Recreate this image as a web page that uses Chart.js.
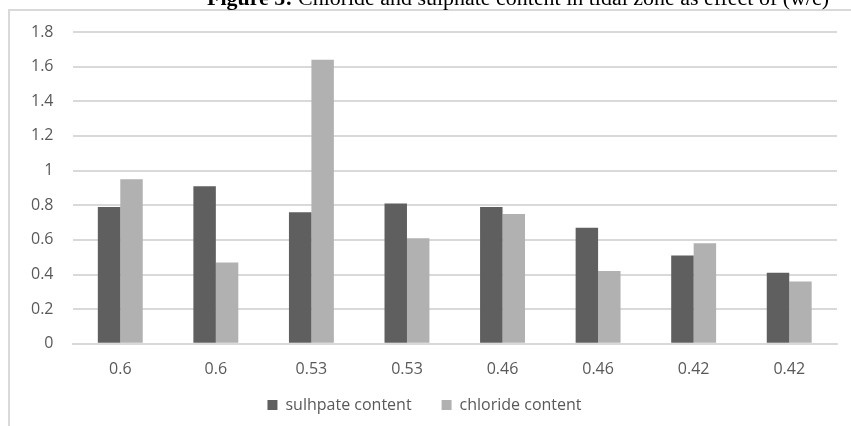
<!DOCTYPE html>
<html>
<head>
<meta charset="utf-8">
<script src="https://cdn.jsdelivr.net/npm/chart.js@4.4.1/dist/chart.umd.min.js"></script>
<style>
  html, body { margin: 0; padding: 0; background: #ffffff; }
  #wrap { width: 851px; height: 426px; position: relative; }
</style>
</head>
<body>
<div id="wrap"><canvas id="c" width="851" height="426"></canvas></div>
<script>
// w/c ratio of each specimen
const categories = ['0.6', '0.6', '0.53', '0.53', '0.46', '0.46', '0.42', '0.42'];
const sulphateContent = [0.79, 0.91, 0.76, 0.81, 0.79, 0.67, 0.51, 0.41];
const chlorideContent = [0.95, 0.47, 1.64, 0.61, 0.75, 0.42, 0.58, 0.36];
const seriesNames = ['sulhpate content', 'chloride content'];
const yTicks = [0, 0.2, 0.4, 0.6, 0.8, 1, 1.2, 1.4, 1.6, 1.8];

const TICK_FONT = { family: "'Open Sans', sans-serif", size: 16 };
const LEGEND_ROW_Y = 405;   // vertical centre of the legend row

// Caption above the chart plus the light frame around it
const framePlugin = {
  id: 'frame',
  beforeDraw(chart) {
    const ctx = chart.ctx;
    ctx.save();
    ctx.fillStyle = '#ffffff';
    ctx.fillRect(0, 0, chart.width, chart.height);
    ctx.strokeStyle = '#d9d9d9';
    ctx.lineWidth = 2;
    ctx.beginPath();
    ctx.moveTo(9, chart.height);
    ctx.lineTo(9, 10);
    ctx.lineTo(chart.width, 10);
    ctx.stroke();

    // caption: bold label + regular text, fitted to its span
    const bold = 'Figure 5:';
    const rest = ' Chloride and sulphate content in tidal zone as effect of (w/c)';
    ctx.fillStyle = '#000000';
    ctx.textBaseline = 'alphabetic';
    ctx.font = "bold 20px 'Liberation Serif', serif";
    const wb = ctx.measureText(bold).width;
    ctx.font = "20px 'Liberation Serif', serif";
    const wr = ctx.measureText(rest).width;
    const x0 = 207, x1 = 829;
    const sx = (x1 - x0) / (wb + wr);
    ctx.translate(x0, 5);
    ctx.scale(sx, 1);
    ctx.font = "bold 20px 'Liberation Serif', serif";
    ctx.fillText(bold, 0, 0);
    ctx.font = "20px 'Liberation Serif', serif";
    ctx.fillText(rest, wb, 0);
    ctx.restore();
  },
  // the wide item spacing would also push the legend row down; set its row position directly
  afterLayout(chart) {
    const lg = chart.legend;
    if (!lg) return;
    const pad = lg.options.labels.padding;
    const itemH = Math.max(lg.options.labels.boxHeight, TICK_FONT.size);
    const shift = (LEGEND_ROW_Y - itemH / 2 - pad) - lg.top;
    lg.top += shift;
    lg.bottom += shift;
    if (lg.legendHitBoxes) lg.legendHitBoxes.forEach(h => { h.top += shift; });
  }
};

new Chart(document.getElementById('c'), {
  type: 'bar',
  data: {
    labels: categories,
    datasets: [
      {
        label: seriesNames[0],
        data: sulphateContent,
        backgroundColor: '#5f5f5f',
        borderWidth: 0
      },
      {
        label: seriesNames[1],
        data: chlorideContent,
        backgroundColor: '#b1b1b1',
        borderWidth: 0
      }
    ]
  },
  options: {
    responsive: false,
    animation: false,
    devicePixelRatio: 1,
    layout: { padding: { top: 32, right: 14, bottom: -25, left: 12 } },
    datasets: { bar: { categoryPercentage: 0.47, barPercentage: 1.0 } },
    scales: {
      x: {
        grid: { display: false, drawTicks: false },
        border: { display: true, color: '#d9d9d9', width: 2 },
        ticks: { color: '#595959', font: TICK_FONT, padding: 16 }
      },
      y: {
        min: 0,
        max: 1.8,
        afterBuildTicks(axis) { axis.ticks = yTicks.map(v => ({ value: v })); },
        grid: { color: '#d9d9d9', lineWidth: 2, drawTicks: false },
        border: { display: false },
        ticks: {
          color: '#595959',
          font: TICK_FONT,
          padding: 19,
          callback: v => String(v)
        }
      }
    },
    plugins: {
      legend: {
        position: 'bottom',
        labels: {
          color: '#595959',
          font: TICK_FONT,
          boxWidth: 10,
          boxHeight: 10,
          padding: 30
        }
      },
      tooltip: { enabled: false }
    }
  },
  plugins: [framePlugin]
});
</script>
</body>
</html>
